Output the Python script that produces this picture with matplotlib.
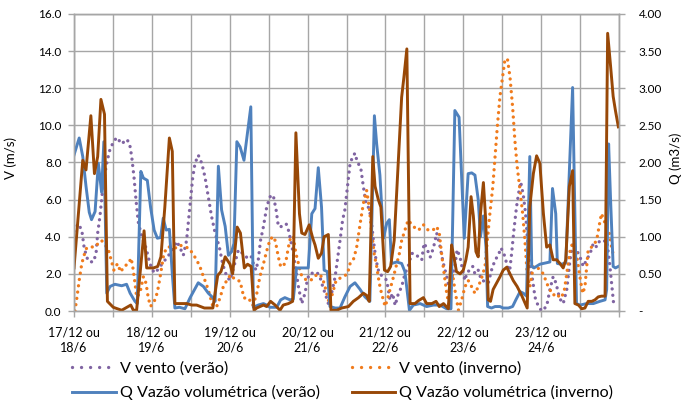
import numpy as np
import matplotlib
matplotlib.use("Agg")
import matplotlib.pyplot as plt
from matplotlib.lines import Line2D
from matplotlib.ticker import FuncFormatter, MultipleLocator

plt.rcParams["font.family"] = ["Lato", "DejaVu Sans"]

# hours since 17/12 00h (or 18/6)
day_labels = ["17/12 ou\n18/6", "18/12 ou\n19/6", "19/12 ou\n20/6", "20/12 ou\n21/6",
              "21/12 ou\n22/6", "22/12 ou\n23/6", "23/12 ou\n24/6"]

# V vento (verao), m/s
v_ver_h = [0, 1.3, 2.4, 3.1, 3.9, 4.7, 6.0, 6.8, 7.3, 8.0, 8.8, 9.9, 10.9, 12.1, 13.2, 14.7,
           16.2, 17.1, 17.8, 18.5, 19.1, 19.8, 20.9, 22.2, 23.4, 24.7, 25.7, 27.0, 28.1, 29.6,
           30.6, 31.7, 32.7, 33.7, 34.7, 35.8, 36.6, 37.3, 38.3, 39.4, 40.4, 41.4, 42.4, 43.5,
           44.8, 45.8, 47.1, 48.1, 49.3, 50.7, 52.0, 53.2, 54.5, 55.3, 56.1, 56.8, 57.5, 58.4,
           59.4, 60.4, 61.4, 62.3, 63.0, 64.0, 65.4, 66.1, 66.8, 67.6, 68.4, 69.2, 70.2, 71.2,
           71.9, 72.5, 73.8, 74.8, 75.8, 76.7, 77.4, 78.4, 79.4, 80.5, 81.2, 82.0, 82.8, 83.5,
           84.3, 85.1, 85.9, 86.6, 87.3, 88.4, 89.2, 90.0, 90.7, 91.5, 92.3, 93.1, 94.1, 95.4,
           96.4, 97.4, 98.2, 99.0, 100.0, 101.0, 102.0, 103.0, 104.1, 105.1, 106.2, 107.2, 107.9,
           108.7, 109.8, 110.8, 111.8, 112.8, 113.8, 114.9, 115.7, 116.4, 117.4, 118.1, 119.0,
           119.8, 120.5, 121.2, 122.1, 122.9, 123.6, 124.6, 125.6, 126.7, 127.7, 128.7, 129.8,
           130.8, 131.6, 132.5, 133.4, 134.2, 134.9, 135.6, 136.4, 137.2, 137.7, 138.5, 139.2,
           139.8, 140.5, 141.4, 142.1, 142.8, 144.1, 145.7, 146.7, 147.7, 148.6, 149.3, 150.0,
           150.8, 151.9, 152.9, 153.7, 154.9, 156.0, 157.0, 158.0, 159.1, 160.1, 161.1, 162.1,
           163.2, 164.2, 165.0, 165.7, 166.4]
v_ver = [4.3, 4.7, 4.35, 3.45, 2.9, 2.65, 2.65, 3.1, 4.2, 5.1, 6.5, 7.8, 8.6, 9.1, 9.35, 9.0,
         9.25, 9.05, 8.3, 7.2, 6.0, 4.8, 4.0, 3.4, 2.55, 2.05, 2.2, 2.5, 2.75, 3.1,
         3.4, 3.75, 3.4, 3.0, 3.8, 5.8, 7.2, 7.95, 8.4, 7.95, 7.2, 6.15, 5.1, 4.2,
         3.45, 2.55, 1.85, 1.65, 2.4, 3.3, 3.1, 2.9, 3.0, 2.55, 2.2, 2.75, 3.8, 4.55,
         5.6, 6.15, 6.25, 5.45, 4.55, 4.55, 4.7, 4.35, 3.8, 3.1, 2.2, 1.3, 0.4, 0.95,
         1.65, 2.0, 2.05, 2.1, 1.85, 1.3, 0.95, 0.4, 0.95, 1.85, 2.75, 3.8, 4.9, 5.45,
         6.7, 7.95, 8.3, 8.5, 8.05, 7.7, 6.7, 5.8, 5.6, 5.1, 3.8, 2.75, 2.0, 1.85,
         1.65, 0.6, 0.95, 0.3, 0.95, 1.3, 2.0, 2.4, 3.1, 3.1, 2.9, 2.75, 3.65,
         3.4, 2.9, 3.4, 4.2, 3.5, 2.6, 1.85, 1.15, 1.65, 2.4, 3.3, 2.9,
         2.2, 1.65, 2.1, 2.2, 2.4, 2.0, 2.2, 1.65, 1.6, 1.5, 2.2, 2.75,
         3.0, 3.4, 3.1, 2.55, 2.0, 3.1, 4.35, 5.6, 6.5, 6.95, 6.25, 5.25,
         3.8, 2.4, 1.65, 0.75, 0.4, 0.0, 0.25, 1.15, 1.85, 1.5, 0.95, 0.6,
         0.4, 1.15, 2.75, 3.65, 3.3, 2.9, 2.4, 2.75, 3.1, 3.65, 3.45, 3.8,
         3.75, 3.8, 2.75, 1.5, 0.3]

# V vento (inverno), m/s
v_inv_h = [0.3, 1.0, 1.6, 2.4, 3.1, 3.9, 5.1, 6.5, 7.5, 8.5, 9.6, 10.6, 11.3, 12.3, 13.4, 14.4,
           15.4, 16.8, 17.6, 18.1, 18.8, 19.3, 20.3, 21.4, 22.2, 22.9, 23.6, 24.7, 25.7, 26.7,
           27.7, 28.8, 30.1, 31.4, 32.7, 33.9, 35.3, 36.6, 37.8, 38.8, 39.9, 40.7, 41.7, 42.8,
           44.0, 45.0, 46.0, 47.1, 48.3, 49.6, 51.2, 52.4, 53.8, 55.1, 56.3, 57.3, 58.2, 59.2,
           59.9, 60.6, 61.7, 62.3, 63.0, 63.7, 64.5, 65.4, 66.1, 66.8, 67.6, 68.4, 69.2, 69.9,
           70.9, 71.9, 73.0, 74.0, 75.3, 76.3, 77.1, 77.9, 78.7, 79.7, 80.8, 81.8, 83.0, 84.3,
           85.1, 86.1, 87.1, 88.2, 89.2, 90.2, 91.0, 91.8, 92.5, 93.3, 94.1, 94.8, 95.9, 96.6,
           97.4, 98.2, 99.3, 100.3, 101.0, 102.0, 103.0, 104.6, 106.2, 107.7, 109.2, 110.6, 111.8,
           112.6, 113.3, 114.1, 114.9, 115.6, 116.7, 117.4, 118.5, 119.5, 120.5, 121.5, 122.6,
           123.6, 124.6, 125.6, 126.7, 127.4, 128.2, 129.1, 129.8, 130.5, 131.3, 132.1, 132.8,
           133.6, 134.4, 135.2, 135.9, 136.6, 137.5, 138.3, 139.0, 139.7, 140.5, 141.6, 142.6,
           143.6, 144.7, 145.7, 146.7, 147.7, 148.8, 149.8, 151.0, 151.9, 152.7, 153.7, 154.7,
           155.8, 156.8, 157.5, 158.5, 159.6, 160.6, 161.3, 162.0, 162.6, 163.3, 164.2, 165.0,
           165.7, 166.4]
v_inv = [0.0, 0.85, 1.65, 2.55, 3.0, 3.4, 3.45, 3.45, 3.65, 3.8, 3.55, 3.3, 2.85, 2.2, 2.55, 2.1,
         2.4, 2.55, 2.85, 2.4, 1.5, 0.75, 0.95, 1.85, 1.5, 0.7, 0.25, 0.5, 1.0, 2.0,
         3.1, 3.45, 3.45, 3.4, 3.55, 3.45, 3.4, 3.1, 2.75, 2.4, 1.85, 1.5, 0.95, 0.25,
         0.25, 0.7, 1.3, 1.65, 1.95, 1.7, 1.6, 0.7, 0.7, 0.3, 0.9, 1.85, 2.4, 3.1,
         3.55, 3.9, 4.0, 3.55, 2.9, 2.4, 2.4, 2.75, 3.45, 4.0, 4.0, 3.1, 2.55, 2.0,
         1.75, 1.65, 1.65, 1.85, 2.0, 1.85, 1.5, 0.95, 0.4, 0.95, 1.65, 1.75, 1.85, 2.0,
         2.55, 2.75, 3.4, 4.7, 5.8, 6.5, 5.6, 4.2, 3.1, 2.4, 1.5, 0.95, 0.25, 0.6,
         1.15, 1.65, 2.4, 3.1, 3.8, 4.35, 4.9, 4.55, 4.35, 4.65, 4.35, 4.35, 4.55,
         4.2, 3.1, 2.0, 0.95, 0.3, 2.0, 1.15, 0.05, 0.6, 1.3, 1.65, 1.3,
         0.95, 1.3, 1.75, 2.4, 3.8, 5.25, 6.7, 8.3, 9.95, 11.55, 12.6, 13.5,
         13.6, 12.6, 11.0, 9.2, 7.8, 6.5, 5.25, 3.8, 2.0, 1.3, 2.4, 2.4,
         2.2, 2.0, 1.5, 1.15, 0.85, 0.95, 0.7, 0.95, 2.0, 3.1, 3.65, 3.3,
         2.0, 0.95, 1.3, 3.3, 3.45, 3.65, 4.0, 4.7, 5.25, 4.9, 4.55, 4.2,
         3.45, 2.9]

# Q vazao volumetrica (verao), m3/s
q_ver_h = [0, 1.6, 2.7, 3.7, 4.7, 5.4, 6.5, 7.5, 8.5, 9.2, 10.1, 11.1, 12.6, 14.7, 16.2, 17.3,
           18.8, 19.5, 20.6, 21.4, 22.6, 23.6, 24.7, 25.7, 26.7, 27.5, 28.4, 29.4, 30.3, 31.1,
           32.5, 34.2, 35.8, 38.3, 39.9, 41.4, 42.8, 43.5, 44.5, 45.5, 46.6, 47.6, 48.6, 49.3,
           50.2, 51.2, 52.4, 54.5, 55.3, 56.8, 58.4, 59.4, 60.4, 62.5, 63.7, 65.0, 66.6, 67.6,
           68.6, 70.0, 72.2, 73.3, 74.3, 75.3, 76.3, 77.1, 78.1, 78.9, 80.5, 82.0, 83.5, 85.1,
           86.6, 88.2, 89.7, 91.2, 92.6, 93.3, 94.3, 95.4, 96.4, 97.2, 97.9, 99.5, 101.0, 102.0,
           103.4, 104.6, 106.7, 108.7, 110.8, 112.8, 114.9, 116.2, 117.4, 118.7, 120.3, 121.5,
           122.6, 123.6, 124.6, 125.3, 126.2, 127.0, 127.5, 128.7, 129.8, 131.3, 132.3, 133.9,
           135.2, 136.2, 137.5, 138.5, 139.5, 140.5, 141.1, 141.8, 143.6, 145.7, 146.7, 147.5,
           148.5, 149.0, 150.3, 151.6, 153.7, 154.9, 156.0, 158.0, 160.1, 162.1, 163.7, 164.2,
           164.8, 165.4, 166.2, 166.9, 167.8]
q_ver = [2.10, 2.33, 2.08, 1.68, 1.33, 1.23, 1.34, 1.99, 1.60, 2.28, 0.24, 0.33, 0.36, 0.34,
         0.36, 0.24, 0.13, 0.10, 1.88, 1.79, 1.76, 1.40, 1.09, 0.98, 0.99, 1.25, 1.09, 1.10,
         0.50, 0.04, 0.05, 0.03, 0.18, 0.38, 0.33, 0.24, 0.18, 0.13, 1.95, 1.36, 1.14, 0.75,
         0.80, 0.91, 2.28, 2.21, 2.03, 2.75, 0.05, 0.08, 0.10, 0.08, 0.05, 0.05, 0.15, 0.18,
         0.15, 0.16, 0.58, 0.58, 0.58, 1.31, 1.38, 1.93, 1.40, 0.55, 0.53, 0.06, 0.04, 0.04,
         0.19, 0.33, 0.38, 0.29, 0.19, 0.13, 2.63, 2.25, 1.83, 0.98, 1.18, 1.23, 0.64, 0.66,
         0.64, 0.53, 0.01, 0.08, 0.10, 0.06, 0.08, 0.08, 0.03, 0.03, 2.70, 2.61, 0.98, 1.85,
         1.86, 1.83, 1.50, 1.00, 1.28, 0.86, 0.06, 0.04, 0.06, 0.06, 0.04, 0.04, 0.06, 0.15,
         0.26, 0.24, 0.20, 2.08, 0.60, 0.58, 0.63, 0.65, 0.66, 1.65, 1.31, 0.64, 0.63, 0.65,
         3.01, 0.10, 0.08, 0.10, 0.10, 0.13, 0.15, 0.29, 2.25, 1.50, 0.60, 0.58, 0.60]

# Q vazao volumetrica (inverno), m3/s
q_inv_h = [0, 2.7, 3.7, 5.2, 6.3, 7.3, 8.3, 9.4, 10.3, 12.1, 14.7, 17.5, 18.3, 19.3, 21.6, 22.4,
           24.5, 25.8, 26.8, 28.0, 29.4, 30.3, 31.1, 34.7, 36.3, 37.8, 40.2, 42.8, 44.3, 45.3,
           46.6, 48.1, 48.9, 50.3, 51.3, 52.5, 53.5, 54.6, 55.5, 56.3, 58.4, 59.4, 60.6, 62.0,
           63.5, 64.5, 66.1, 67.4, 68.4, 69.5, 70.2, 71.2, 72.5, 73.6, 74.3, 75.3, 76.3, 77.1,
           78.4, 79.2, 81.0, 82.5, 84.6, 86.1, 87.7, 89.2, 90.2, 91.0, 92.1, 92.8, 93.8, 94.6,
           95.7, 96.7, 97.6, 98.7, 100.0, 101.0, 101.7, 102.6, 103.6, 105.1, 106.2, 107.7, 108.7,
           110.3, 111.6, 112.6, 113.9, 115.4, 116.4, 117.1, 117.9, 119.0, 120.0, 120.8, 121.5,
           122.4, 123.1, 123.9, 124.6, 125.3, 126.2, 126.9, 127.7, 128.4, 129.2, 130.3, 131.3,
           132.3, 133.4, 134.4, 135.4, 136.6, 138.0, 139.7, 140.5, 141.6, 142.6, 143.6, 144.7,
           145.7, 146.7, 147.7, 148.8, 149.8, 150.8, 151.6, 152.7, 153.7, 154.4, 155.5, 156.5,
           157.5, 158.5, 159.6, 160.6, 161.6, 162.6, 163.7, 164.5, 165.4, 166.2, 166.9, 167.8]
q_inv = [0.58, 2.03, 1.90, 2.63, 1.85, 2.08, 2.85, 2.65, 0.13, 0.05, 0.01, 0.08, 0.01, 0.01,
         1.08, 0.58, 0.58, 0.60, 0.73, 1.40, 2.33, 2.15, 0.10, 0.10, 0.08, 0.08, 0.04, 0.04,
         0.48, 0.53, 0.73, 0.63, 0.50, 1.13, 1.05, 0.58, 0.63, 0.60, 0.01, 0.04, 0.08, 0.06,
         0.13, 0.08, 0.01, 0.08, 0.10, 0.13, 2.40, 1.31, 1.05, 1.03, 1.16, 0.98, 0.89, 0.71,
         0.78, 1.00, 1.03, 0.01, 0.01, 0.04, 0.06, 0.13, 0.18, 0.24, 0.21, 0.13, 2.08, 1.68,
         1.50, 1.40, 0.55, 0.53, 0.60, 0.95, 2.03, 2.88, 3.15, 3.53, 0.10, 0.10, 0.14, 0.18,
         0.10, 0.10, 0.13, 0.06, 0.10, 0.03, 0.89, 0.73, 0.53, 0.50, 0.55, 0.69, 0.86, 1.54,
         1.28, 0.80, 0.73, 1.31, 1.73, 1.23, 0.15, 0.13, 0.29, 0.38, 0.46, 0.55, 0.59, 0.50,
         0.41, 0.33, 0.21, 0.04, 1.40, 1.85, 2.09, 1.99, 1.31, 0.86, 0.89, 0.69, 0.69, 0.64,
         0.58, 0.69, 1.68, 1.89, 0.10, 0.08, 0.03, 0.04, 0.13, 0.13, 0.15, 0.19, 0.20, 0.20,
         3.74, 3.30, 2.89, 2.70, 2.48]

C_PURPLE = "#8064A2"
C_ORANGE = "#F07B1C"
C_BLUE = "#4F81BD"
C_BROWN = "#984807"
GRID = "#A6A6A6"

fig = plt.figure(figsize=(6.83, 4.0), dpi=100)
ax = fig.add_axes([74 / 683, 1 - 311 / 400, 545 / 683, 297 / 400])
ax2 = ax.twinx()

dots = (0, (0.01, 1.9))
ax.plot(v_ver_h, v_ver, color=C_PURPLE, lw=2.4, ls=dots, dash_capstyle="round")
ax.plot(v_inv_h, v_inv, color=C_ORANGE, lw=2.4, ls=dots, dash_capstyle="round")
ax2.plot(q_ver_h, q_ver, color=C_BLUE, lw=2.1, solid_joinstyle="round")
ax2.plot(q_inv_h, q_inv, color=C_BROWN, lw=2.1, solid_joinstyle="round")

ax.set_xlim(0, 168)
ax.set_ylim(0, 16)
ax2.set_ylim(0, 4)

ax.yaxis.set_major_locator(MultipleLocator(2))
ax.yaxis.set_major_formatter(FuncFormatter(lambda v, p: f"{v:.1f}"))
ax2.yaxis.set_major_locator(MultipleLocator(0.5))
ax2.yaxis.set_major_formatter(FuncFormatter(lambda v, p: "-" if abs(v) < 1e-9 else f"{v:.2f}"))

ax.set_xticks(np.arange(0, 169, 12))
ax.set_xticklabels([day_labels[i // 2] if i % 2 == 0 and i // 2 < len(day_labels) else ""
                    for i in range(15)], linespacing=1.3)
for t in ax.get_xticklabels():
    t.set_multialignment("center")
ax.grid(True, color=GRID, lw=1.0)
ax.set_axisbelow(True)

for a in (ax, ax2):
    for s in a.spines.values():
        s.set_color(GRID)
        s.set_linewidth(1.0)
ax.tick_params(axis="both", colors=GRID, length=4, width=1.0, labelcolor="#000000",
               labelsize=8.5)
ax.tick_params(axis="y", pad=5)
ax.tick_params(axis="x", pad=7, labelsize=9)
ax2.tick_params(axis="y", colors=GRID, length=4, width=1.0, labelcolor="#000000",
                labelsize=8.5, pad=10)

fig.text(0.016, 0.605, "V (m/s)", rotation=90, ha="center", va="center", fontsize=9.5)
fig.text(0.99, 0.605, "Q (m3/s)", rotation=90, ha="center", va="center", fontsize=9.5)

# legend handles: Excel draws the legend dots a little wider apart
leg_dots = (0, (0.01, 2.7))
h1 = Line2D([], [], color=C_PURPLE, lw=2.4, ls=leg_dots, dash_capstyle="round")
h2 = Line2D([], [], color=C_ORANGE, lw=2.4, ls=leg_dots, dash_capstyle="round")
h3 = Line2D([], [], color=C_BLUE, lw=2.1)
h4 = Line2D([], [], color=C_BROWN, lw=2.1)
fig.legend([h1, h3, h2, h4],
           ["V vento (verão)", "Q Vazão volumétrica (verão)",
            "V vento (inverno)", "Q Vazão volumétrica (inverno)"],
           loc="upper left", bbox_to_anchor=(72 / 683, 1 - 361 / 400),
           ncol=2, frameon=False, fontsize=11.6, handlelength=2.7, handletextpad=0.25,
           columnspacing=2.0, labelspacing=0.62, borderaxespad=0, borderpad=0)

fig.savefig("out.png", dpi=100)
